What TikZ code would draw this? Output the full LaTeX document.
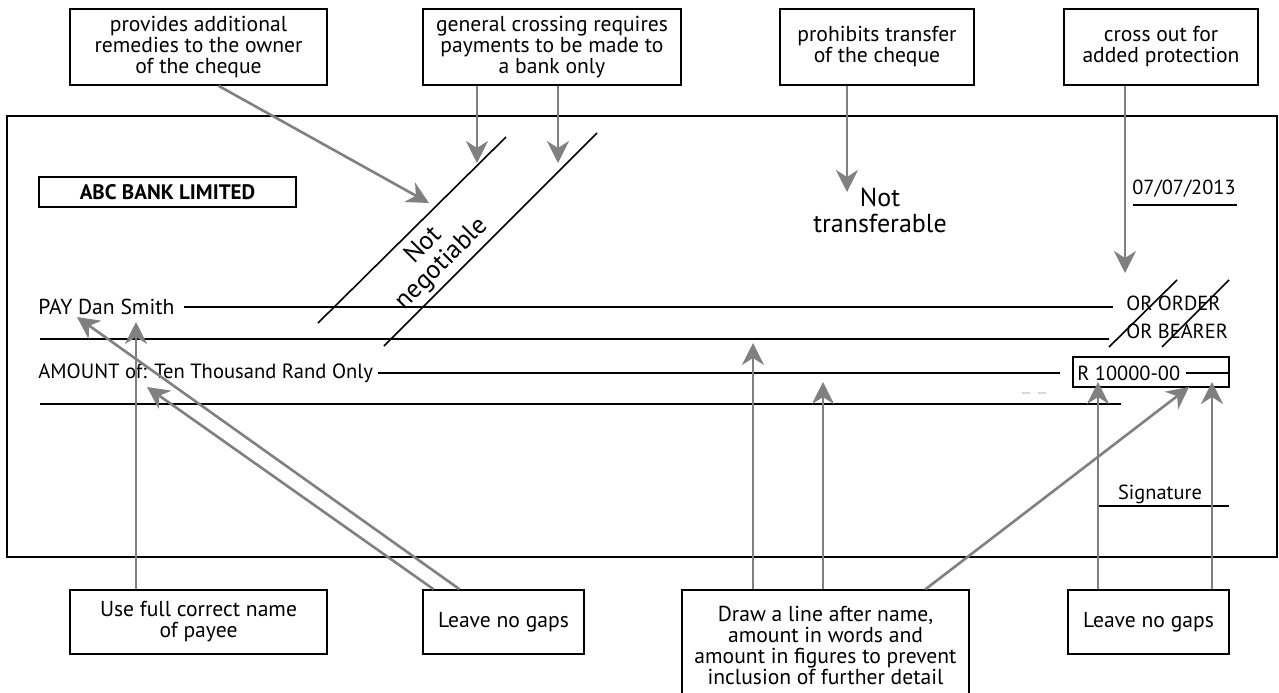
\documentclass[tikz,border=0pt]{standalone}
\usepackage{fontspec}
\setmainfont{PT Sans}
\usetikzlibrary{arrows.meta,positioning}
\definecolor{arrgrey}{gray}{0.5}

\begin{document}
\begin{tikzpicture}[x = 0.5pt, y = -0.5pt,
note/.style = {draw, line width = 0.8pt, align = center, inner sep = 0pt, font = \fontsize{10.8}{10.5}\selectfont},
field/.style = {anchor = west, inner sep = 0pt, font = \fontsize{10.8}{13}\selectfont},
small/.style = {inner sep = 0pt, font = \fontsize{10.2}{12}\selectfont},
big/.style = {align = center, inner sep = 0pt, font = \fontsize{13}{13}\selectfont},
rule/.style = {line width = 0.8pt},
pointer/.style = {draw = arrgrey, line width = 1.3pt, -{Stealth[length = 11pt, width = 11pt, inset = 3.5pt]}}]

\useasboundingbox (0,0) rectangle (1279,692);

% Cheque
\draw[rule] (7,116) rectangle (1277,557);
\node[draw, rule, minimum width = 128.5pt, minimum height = 15pt, inner sep = 0pt,
  font = \fontsize{10.5}{12}\selectfont\bfseries] (bank) at (167.5,192) {ABC BANK LIMITED};

% Crossing
\draw[rule] (318,323) -- (506,137);
\draw[rule] (384,346) -- (597,133);
\node[big, rotate = 45] (neg) at (433,255) {Not\\negotiable};
\node[big] (trans) at (880,210) {Not\\transferable};

\node[small] (date) at (1184,189) {07/07/2013};
\draw[rule] (1133,205) -- (1237,205);

\node[field] (pay) at (38,307) {PAY Dan Smith};
\node[small, anchor = west] (order) at (1126,303) {OR ORDER};
\node[small, anchor = west] (bearer) at (1126,331) {OR BEARER};
\draw[rule] (184,307) -- (1113,307);
\draw[rule] (40,339) -- (1109,339);
\draw[rule] (1109,347) -- (1177,280);
\draw[rule] (1162,347) -- (1229,280);

\node[field, font = \fontsize{10.3}{13}\selectfont] (amount) at (38,373) {AMOUNT of: Ten Thousand Rand Only};
\draw[rule] (378,373) -- (1060,373);
\draw[rule] (40,404) -- (1121,404);
\draw[line width = 0.6pt, gray!30, dash pattern = on 4pt off 4pt] (1022,393) -- (1052,393);

\draw[rule] (1073,357) rectangle (1229,387);
\node[small, anchor = west] (figures) at (1077,373) {R 10000-00};
\draw[rule] (1186,373) -- (1229,373);

\node[small] (sign) at (1160,494) {Signature};
\draw[rule] (1098,506) -- (1229,506);

% Notes above
\node[note, minimum width = 128.5pt, minimum height = 38pt] (remedies) at (198.5,47)
  {provides additional\\remedies to the owner\\of the cheque};
\node[note, minimum width = 129pt, minimum height = 38pt] (general) at (552,47)
  {general crossing requires\\payments to be made to\\a bank only};
\node[note, minimum width = 97pt, minimum height = 38pt] (prohibits) at (877,47)
  {prohibits transfer\\of the cheque};
\node[note, minimum width = 97pt, minimum height = 38pt] (crossout) at (1161,47)
  {cross out for\\added protection};

% Notes below
\node[note, minimum width = 128.5pt, minimum height = 32pt] (fullname) at (198.5,622)
  {Use full correct name\\of payee};
\node[note, minimum width = 80.5pt, minimum height = 32pt] (gaps-1) at (503.5,622)
  {Leave no gaps};
\node[note, minimum width = 143.5pt, minimum height = 55pt] (drawline) at (825.5,645)
  {Draw a line after name,\\amount in words and\\amount in figures to prevent\\inclusion of further detail};
\node[note, minimum width = 80.5pt, minimum height = 32pt] (gaps-2) at (1148.5,622)
  {Leave no gaps};

% Arrow tips
\coordinate (t-neg) at (429,203);
\coordinate (t-gen1) at (477,163);
\coordinate (t-gen2) at (558,163);
\coordinate (t-trans) at (847,192);
\coordinate (t-order) at (1125,273);
\coordinate (t-name) at (136,322);
\coordinate (t-pay) at (77,317);
\coordinate (t-amt) at (147,387);
\coordinate (t-line1) at (753,343);
\coordinate (t-line2) at (823,382);
\coordinate (t-fig) at (1189,387);
\coordinate (t-gap1) at (1098,382);
\coordinate (t-gap2) at (1212,382);

% Connect notes
\draw[pointer] ([xshift = 10pt]remedies.south) -- (t-neg);
\draw[pointer] (general.south -| t-gen1) -- (t-gen1);
\draw[pointer] (general.south -| t-gen2) -- (t-gen2);
\draw[pointer] (prohibits.south -| t-trans) -- (t-trans);
\draw[pointer] (crossout.south -| t-order) -- (t-order);
\draw[pointer] (fullname.north -| t-name) -- (t-name);
\draw[pointer] ([xshift = -22pt]gaps-1.north) -- (t-pay);
\draw[pointer] ([xshift = -35pt]gaps-1.north) -- (t-amt);
\draw[pointer] (drawline.north -| t-line1) -- (t-line1);
\draw[pointer] (drawline.north -| t-line2) -- (t-line2);
\draw[pointer] ([xshift = 50pt]drawline.north) -- (t-fig);
\draw[pointer] (gaps-2.north -| t-gap1) -- (t-gap1);
\draw[pointer] (gaps-2.north -| t-gap2) -- (t-gap2);

\end{tikzpicture}
\end{document}
